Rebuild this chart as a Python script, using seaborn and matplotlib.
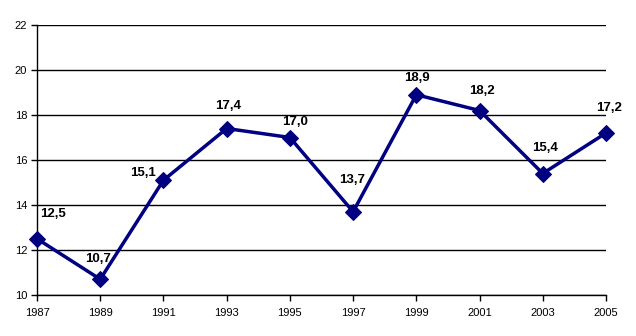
import matplotlib
matplotlib.use("Agg")
import matplotlib.pyplot as plt
import seaborn as sns
import pandas as pd

years = [1987, 1989, 1991, 1993, 1995, 1997, 1999, 2001, 2003, 2005]
values = [12.5, 10.7, 15.1, 17.4, 17.0, 13.7, 18.9, 18.2, 15.4, 17.2]
y_ticks = [10, 12, 14, 16, 18, 20, 22]

# label offsets (pixels) relative to each point, as placed in the reference
label_dx = [16, -2, -20, 1, 5, -1, 1, 2, 2, 3]
label_dy = [25, 20, 7, 23, 15, 32, 17, 19, 25, 25]

sns.set_theme(style="white")
plt.rcParams['font.family'] = ['Liberation Sans', 'DejaVu Sans']

df = pd.DataFrame({"year": years, "value": values})

fig = plt.figure(figsize=(6.36, 3.36), dpi=100)
ax = fig.add_axes([37/636, (336-295)/336, (606-37)/636, (295-25)/336])
sns.lineplot(data=df, x="year", y="value", ax=ax, color="#000080",
             marker="D", markersize=8.5, markeredgecolor="#000080",
             linewidth=2.5, clip_on=False, zorder=3)

ax.set_xlim(1987, 2005)
ax.set_ylim(10, 22)
ax.set_xticks(years)
ax.set_xticklabels([str(y) for y in years])
ax.set_yticks(y_ticks)
ax.set_yticklabels([str(t) for t in y_ticks])
ax.yaxis.grid(True, color="black", linewidth=1)
ax.xaxis.grid(False)
ax.set_xlabel("")
ax.set_ylabel("")
for s in ["top", "right"]:
    ax.spines[s].set_visible(False)
for s in ["left", "bottom"]:
    ax.spines[s].set_color("black")
    ax.spines[s].set_linewidth(1)
ax.tick_params(axis="both", which="both", direction="out", length=4, width=1,
               color="black", labelsize=8, labelcolor="black", pad=5)
ax.tick_params(axis="x", bottom=True)
ax.tick_params(axis="y", left=True, pad=3)

for x, v, dx, dy in zip(years, values, label_dx, label_dy):
    ax.annotate(f"{v:.1f}".replace(".", ","), (x, v), xytext=(dx, dy),
                textcoords="offset pixels",
                ha="center", va="center", fontsize=9.5, fontweight="bold",
                color="black", annotation_clip=False)

fig.savefig("out.png", dpi=100, facecolor="white")
